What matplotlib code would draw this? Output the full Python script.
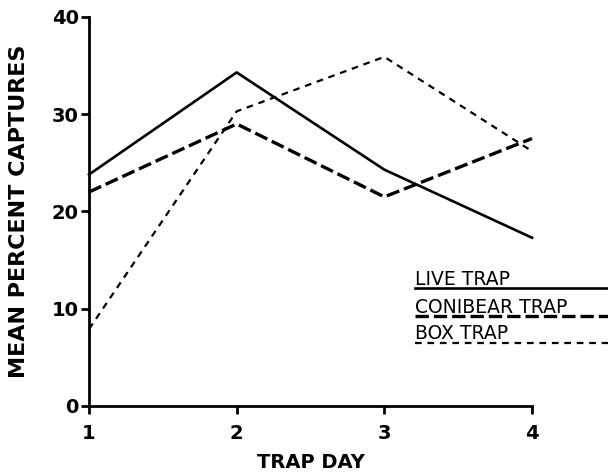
import matplotlib
matplotlib.use("Agg")
import matplotlib.pyplot as plt

days = [1, 2, 3, 4]
live_trap = [23.8, 34.3, 24.3, 17.3]
conibear_trap = [22.0, 29.0, 21.5, 27.5]
box_trap = [7.9, 30.3, 35.9, 26.2]
yticks = [0, 10, 20, 30, 40]
xticks = [1, 2, 3, 4]
series_labels = ["LIVE TRAP", "CONIBEAR TRAP", "BOX TRAP"]

plt.rcParams['font.family'] = ['DejaVu Sans']

fig = plt.figure(figsize=(6.08, 4.72), dpi=100)
ax = fig.add_axes([0.1464, 0.14, 0.7286, 0.824])

styles = [
    dict(color='black', lw=1.9, linestyle='-'),
    dict(color='black', lw=2.4, linestyle=(0, (4, 1.5))),
    dict(color='black', lw=1.6, linestyle=(0, (3, 2.6))),
]
for vals, st in zip([live_trap, conibear_trap, box_trap], styles):
    ax.plot(days, vals, clip_on=False, **st)

ax.set_xlim(1, 4)
ax.set_ylim(0, 40)
ax.set_xticks(xticks)
ax.set_yticks(yticks)
ax.spines['top'].set_visible(False)
ax.spines['right'].set_visible(False)
ax.spines['left'].set_linewidth(2)
ax.spines['bottom'].set_linewidth(2)
ax.tick_params(axis='both', direction='out', width=2, length=6, labelsize=14)
for lab in ax.get_xticklabels() + ax.get_yticklabels():
    lab.set_fontweight('bold')
ax.tick_params(axis='x', pad=7)
ax.tick_params(axis='y', pad=1.5)

ax.set_xlabel("TRAP DAY", fontsize=14, fontweight='bold')
ax.xaxis.set_label_coords(0.5, -0.12)
ax.set_ylabel("MEAN PERCENT CAPTURES", fontsize=16, fontweight='bold')
ax.yaxis.set_label_coords(-0.135, 0.5)

# legend: text with line underneath extending to the right edge
leg_y = [0.303, 0.231, 0.163]
for lab, st, y in zip(series_labels, styles, leg_y):
    ax.text(0.737, y + 0.009, lab, transform=ax.transAxes, fontsize=13.5,
            ha='left', va='baseline')
    ax.plot([0.737, 1.175], [y, y], transform=ax.transAxes, clip_on=False, **st)

fig.savefig("out.png", dpi=100)
